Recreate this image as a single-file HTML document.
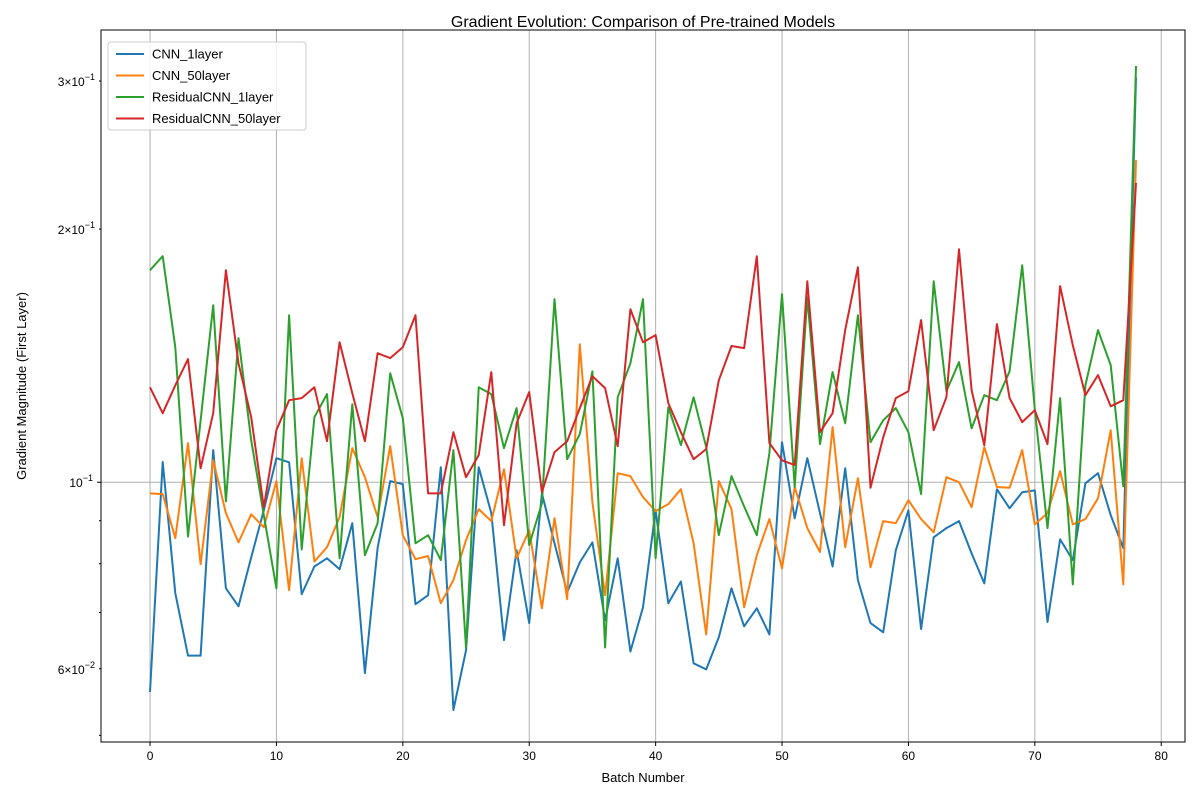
<!DOCTYPE html>
<html><head><meta charset="utf-8"><style>
body{margin:0;background:#fff;}
svg{font-family:"Liberation Sans","DejaVu Sans",sans-serif;}
</style></head><body>
<svg id="chart" width="1200" height="800" viewBox="0 0 1200 800" xmlns="http://www.w3.org/2000/svg">
<rect width="1200" height="800" fill="#fff"/>
<text x="643" y="27" font-size="16" text-anchor="middle">Gradient Evolution: Comparison of Pre-trained Models</text>
<g id="grid"></g>
<g id="series"></g>
<rect x="101" y="30" width="1084" height="712" fill="none" stroke="#000" stroke-width="1"/>
<g id="axes"></g>
<text x="643" y="782" font-size="13" text-anchor="middle">Batch Number</text>
<text x="26" y="386" font-size="13" text-anchor="middle" transform="rotate(-90 26 386)">Gradient Magnitude (First Layer)</text>
<g id="legend"></g>
</svg>
<script>
const names = ["CNN_1layer","CNN_50layer","ResidualCNN_1layer","ResidualCNN_50layer"];
const colors = ["#1f77b4","#ff7f0e","#2ca02c","#d62728"];
const cnn1 = [0.0563,0.1057,0.0738,0.0622,0.0622,0.1092,0.0748,0.0712,0.0814,0.0926,0.1068,0.1056,0.0736,0.0794,0.0812,0.0788,0.0894,0.0593,0.0835,0.1003,0.0995,0.0716,0.0734,0.1042,0.0536,0.0631,0.1042,0.0919,0.0649,0.0830,0.0680,0.0970,0.0846,0.0740,0.0803,0.0848,0.0685,0.0812,0.0629,0.0710,0.0926,0.0718,0.0762,0.0609,0.0599,0.0654,0.0748,0.0674,0.0708,0.0659,0.1116,0.0906,0.1068,0.0919,0.0794,0.1039,0.0765,0.0680,0.0663,0.0830,0.0926,0.0669,0.0860,0.0882,0.0899,0.0823,0.0758,0.0981,0.0931,0.0973,0.0978,0.0682,0.0855,0.0808,0.0997,0.1025,0.0914,0.0835,0.303];
const cnn50 = [0.0970,0.0968,0.0858,0.1113,0.0799,0.1062,0.0919,0.0848,0.0916,0.0884,0.1003,0.0744,0.1068,0.0805,0.0837,0.0909,0.1098,0.1014,0.0909,0.1104,0.0865,0.0810,0.0817,0.0718,0.0765,0.0853,0.0929,0.0899,0.1036,0.0812,0.0877,0.0708,0.0906,0.0726,0.1459,0.0947,0.0734,0.1025,0.1017,0.0960,0.0924,0.0942,0.0981,0.0846,0.0659,0.1003,0.0929,0.0710,0.0819,0.0904,0.0790,0.0987,0.0882,0.0826,0.1163,0.0837,0.1011,0.0792,0.0899,0.0894,0.0952,0.0904,0.0872,0.1014,0.1000,0.0934,0.1101,0.0987,0.0985,0.1092,0.0891,0.0919,0.1031,0.0891,0.0904,0.0957,0.1153,0.0756,0.2416];
const res1 = [0.1787,0.1857,0.1447,0.0862,0.1185,0.1624,0.0949,0.1484,0.1122,0.0914,0.0748,0.1580,0.0832,0.1195,0.1273,0.0812,0.1238,0.0819,0.0894,0.1348,0.1192,0.0846,0.0865,0.0808,0.1092,0.0636,0.1297,0.1273,0.1098,0.1225,0.0842,0.0944,0.1651,0.1065,0.1141,0.1355,0.0636,0.1262,0.1385,0.1651,0.0812,0.1228,0.1107,0.1262,0.1101,0.0865,0.1017,0.0936,0.0865,0.1083,0.1674,0.0987,0.1660,0.1110,0.1352,0.1175,0.1580,0.1116,0.1185,0.1225,0.1147,0.0968,0.1734,0.1283,0.1389,0.1159,0.1269,0.1252,0.1355,0.1812,0.1221,0.0882,0.1259,0.0756,0.1304,0.1517,0.1378,0.0989,0.3126];
const res50 = [0.1297,0.1208,0.1304,0.1401,0.1039,0.1208,0.1787,0.1385,0.1195,0.0934,0.1153,0.1252,0.1259,0.1297,0.1119,0.1467,0.1276,0.1119,0.1424,0.1405,0.1447,0.1580,0.0970,0.0970,0.1147,0.1014,0.1077,0.1352,0.0889,0.1175,0.1280,0.0973,0.1086,0.1119,0.1225,0.1337,0.1294,0.1104,0.1606,0.1467,0.1496,0.1242,0.1147,0.1065,0.1095,0.1322,0.1452,0.1444,0.1857,0.1113,0.1062,0.1048,0.1734,0.1147,0.1208,0.1517,0.1802,0.0985,0.1131,0.1259,0.1283,0.1559,0.1153,0.1262,0.1893,0.1287,0.1107,0.1542,0.1259,0.1179,0.1218,0.1110,0.1711,0.1455,0.1269,0.1341,0.1231,0.1252,0.2269];
const xTicks = [0,10,20,30,40,50,60,70,80];
const yMinorTicks = [0.05,0.06,0.07,0.08,0.09,0.2,0.3];
const yLabelTicks = [[0.06,"6","2"],[0.2,"2","1"],[0.3,"3","1"]];

const NS="http://www.w3.org/2000/svg";
const X0=101,X1=1185,Y0=30,Y1=742;
const xmin=-3.88,xmax=81.88;
const lmin=Math.log10(0.0491),lmax=Math.log10(0.345);
function xs(v){return X0+(v-xmin)/(xmax-xmin)*(X1-X0);}
function ys(v){return Y1-(Math.log10(v)-lmin)/(lmax-lmin)*(Y1-Y0);}
function mk(tag,attrs,parent){const e=document.createElementNS(NS,tag);for(const k in attrs)e.setAttribute(k,attrs[k]);parent.appendChild(e);return e;}
const grid=document.getElementById('grid'),axes=document.getElementById('axes'),ser=document.getElementById('series'),leg=document.getElementById('legend');

xTicks.forEach(t=>{
  const x=xs(t);
  const g=mk('line',{x1:x,x2:x,y1:Y0,y2:Y1,stroke:'#b0b0b0','stroke-width':1},grid);
  
  
  const tk=mk('line',{x1:x,x2:x,y1:Y1,y2:Y1+4,stroke:'#000'},axes);
  
  
  const lb=mk('text',{x:x,y:Y1+18,'font-size':12,'text-anchor':'middle'},axes);
  lb.textContent=t;
  
  
});
{
  const y=ys(0.1);
  const g=mk('line',{x1:X0,x2:X1,y1:y,y2:y,stroke:'#b0b0b0','stroke-width':1},grid);
  
  
  const tk=mk('line',{x1:X0-4,x2:X0,y1:y,y2:y,stroke:'#000'},axes);
  
  
  const lb=mk('text',{x:X0-8,y:y+5,'font-size':12,'text-anchor':'end'},axes);
  lb.innerHTML='10<tspan dy="-6" font-size="9">−1</tspan>';
  
  
}
yMinorTicks.forEach(t=>{
  const y=ys(t);
  const tk=mk('line',{x1:X0-2,x2:X0,y1:y,y2:y,stroke:'#000'},axes);
  
  
});
yLabelTicks.forEach(([v,m,e])=>{
  const y=ys(v);
  const lb=mk('text',{x:X0-6,y:y+5,'font-size':12,'text-anchor':'end'},axes);
  lb.innerHTML=m+'×10<tspan dy="-6" font-size="9">−'+e+'</tspan>';
  
  
});

[cnn1,cnn50,res1,res50].forEach((arr,si)=>{
  const pts=arr.map((v,i)=>xs(i).toFixed(1)+','+ys(v).toFixed(1)).join(' ');
  const p=mk('polyline',{points:pts,fill:'none',stroke:colors[si],'stroke-width':2,'stroke-linejoin':'round'},ser);
  
  
});

const box=mk('rect',{x:108,y:42,width:198,height:88,rx:3,fill:'#fff','fill-opacity':0.8,stroke:'#ccc'},leg);


names.forEach((n,i)=>{
  const y=54+i*21.5;
  const l=mk('line',{x1:116,x2:144,y1:y,y2:y,stroke:colors[i],'stroke-width':2},leg);
  
  
  const t=mk('text',{x:152,y:y+4.5,'font-size':13},leg);
  t.textContent=n;
  
  
});
</script>
</body></html>
